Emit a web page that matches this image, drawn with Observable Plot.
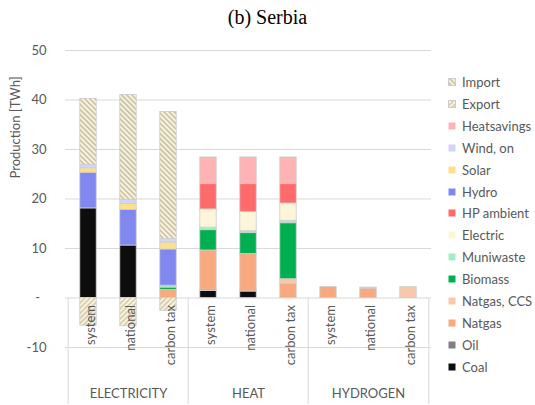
<!DOCTYPE html>
<html><head><meta charset="utf-8">
<script src="https://cdn.jsdelivr.net/npm/d3@7"></script>
<script src="https://cdn.jsdelivr.net/npm/@observablehq/plot@0.6"></script>
<style>
body{margin:0;background:#fff;}
#wrap{position:relative;width:535px;height:405px;font-family:Lato,"Open Sans",sans-serif;color:#595959;}
#title{position:absolute;left:0;top:7px;width:535px;text-align:center;font-family:"Liberation Serif","Times New Roman",serif;font-size:20px;line-height:20px;color:#000;}
#chart{position:absolute;left:0;top:0;}
.item{position:absolute;left:447px;height:16px;line-height:16px;font-size:13px;white-space:nowrap;}
.item svg{position:absolute;left:1px;top:4px;}
.item span{position:absolute;left:15px;top:0;}
</style>
</head><body>
<div id="wrap"><div id="chart"></div><div id="title">(b) Serbia</div><div id="legend"></div></div>
<script>
// ---- data (TWh), 9 bars: ELECTRICITY/HEAT/HYDROGEN × system/national/carbon tax ----
const sectors = ["ELECTRICITY", "HEAT", "HYDROGEN"];
const scenarios = ["system", "national", "carbon tax"];
const seriesNames = ["Coal","Oil","Natgas","Natgas, CCS","Biomass","Muniwaste","Electric","HP ambient","Hydro","Solar","Wind, on","Heatsavings","Export","Import"];
const seriesColors = ["#0d0d0d","#7f7f7f","#f8a97f","#f9c8ab","#00b050","#a6ebc8","#fdf5d9","#ff6b6b","#8088f0","#fde08a","#d2d5f7","#ffb3b5","url(#hatchExport)","url(#hatchImport)"];
const coal        = [18.1, 10.6, 0,    1.4, 1.3, 0,    0,   0,   0];
const oil         = [0,    0,    0,    0,   0,   0,    0,   0,   0];
const natgas      = [0,    0,    1.6,  8.2, 7.6, 2.8,  2.2, 1.9, 0];
const natgasCCS   = [0,    0,    0,    0,   0,   1.0,  0,   0.2, 2.2];
const biomass     = [0,    0,    0.5,  4.1, 4.2, 11.3, 0,   0,   0];
const muniwaste   = [0,    0,    0.4,  0.5, 0.4, 0.5,  0,   0,   0];
const electric    = [0,    0,    0,    3.7, 3.9, 3.5,  0,   0,   0];
const hpAmbient   = [0,    0,    0,    5.1, 5.6, 3.9,  0,   0,   0];
const hydro       = [7.2,  7.2,  7.3,  0,   0,   0,    0,   0,   0];
const solar       = [0.9,  1.2,  1.4,  0,   0,   0,    0,   0,   0];
const windOn      = [0.7,  0.8,  0.7,  0,   0,   0,    0,   0,   0];
const heatsavings = [0,    0,    0,    5.4, 5.4, 5.4,  0,   0,   0];
const exportE     = [-5.6, -5.7, -2.6, 0,   0,   0,    0,   0,   0];
const importE     = [13.3, 21.2, 25.7, 0,   0,   0,    0,   0,   0];
const yTicks = [-10, 0, 10, 20, 30, 40, 50];

// ---- build table ----
const seriesValues = [coal, oil, natgas, natgasCCS, biomass, muniwaste, electric, hpAmbient, hydro, solar, windOn, heatsavings, exportE, importE];
const keys = [];
sectors.forEach(s => scenarios.forEach(c => keys.push(s + "|" + c)));
const rows = [];
seriesValues.forEach((vals, si) => vals.forEach((v, i) => {
  if (v !== 0) rows.push({key: keys[i], series: seriesNames[si], value: v});
}));
const tickRows = keys.map(k => ({key: k, label: k.split("|")[1]}));
const groupRows = sectors.map(s => ({key: s + "|" + scenarios[1], label: s}));
const groupStarts = sectors.map(s => s + "|" + scenarios[0]);
const lastKey = [keys[keys.length - 1]];

const W = 535, H = 405, mL = 65, mR = 104, mT = 50, mB = 58;
const bw = (W - mL - mR) / keys.length;
const pxPerUnit = (H - mT - mB) / (yTicks[yTicks.length - 1] - yTicks[0]);
const yAt = py => yTicks[yTicks.length - 1] - (py - mT) / pxPerUnit; // page px -> value
const txt = "#595959";

const chart = Plot.plot({
  width: W, height: H,
  marginLeft: mL, marginRight: mR, marginTop: mT, marginBottom: mB,
  style: {fontFamily: "Lato, 'Open Sans', sans-serif", fontSize: "13px", color: txt, background: "transparent"},
  x: {type: "band", domain: keys, padding: 0, axis: null},
  y: {domain: [yTicks[0], yTicks[yTicks.length - 1]], axis: null},
  color: {domain: seriesNames, range: seriesColors},
  marks: [
    Plot.ruleY(yTicks, {stroke: "#d9d9d9", strokeWidth: 1}),
    Plot.barY(rows, Plot.stackY({order: seriesNames}, {
      x: "key", y: "value", z: "series", fill: "series",
      stroke: "#cccccc", strokeWidth: 0.8, insetLeft: 11.8, insetRight: 11.8
    })),
    Plot.ruleX(groupStarts, {x: d => d, y1: 0, y2: yAt(404), dx: -bw / 2, stroke: "#d9d9d9"}),
    Plot.ruleX(lastKey, {x: d => d, y1: 0, y2: yAt(404), dx: bw / 2, stroke: "#d9d9d9"}),
    Plot.text(tickRows, {x: "key", y: 0, text: "label", rotate: -90, textAnchor: "end", lineAnchor: "middle", dy: 7, dx: 2, fill: txt, fontSize: 13}),
    Plot.text(groupRows, {x: "key", y: yAt(393), text: "label", fill: txt, fontSize: 13}),
    Plot.text(yTicks, {y: d => d, frameAnchor: "left", dx: -19, textAnchor: "end", text: d => d === 0 ? "-\u2002" : String(d), fill: txt, fontSize: 13}),
    Plot.text(["Production [TWh]"], {y: yAt(178), frameAnchor: "left", dx: -50, rotate: -90, fill: txt, fontSize: 13})
  ]
});

d3.select(chart).insert("defs", ":first-child").html(`
  <pattern id="hatchImport" patternUnits="userSpaceOnUse" width="3.6" height="3.6" patternTransform="rotate(-45)">
    <rect width="3.6" height="3.6" fill="#fcf4d6"/><rect width="1.6" height="3.6" fill="#c4beae"/>
  </pattern>
  <pattern id="hatchExport" patternUnits="userSpaceOnUse" width="3.6" height="3.6" patternTransform="rotate(45)">
    <rect width="3.6" height="3.6" fill="#fcf4d6"/><rect width="1.6" height="3.6" fill="#d2cab6"/>
  </pattern>`);
document.getElementById("chart").appendChild(chart);

// ---- legend (reverse series order, as in the reference) ----
const legend = document.getElementById("legend");
const legendTop = 82, legendStep = 21.9;
seriesNames.slice().reverse().forEach((name, i) => {
  const color = seriesColors[seriesNames.indexOf(name)];
  const div = document.createElement("div");
  div.className = "item";
  div.style.top = (legendTop + i * legendStep - 8) + "px";
  div.innerHTML = `<svg width="8" height="8"><rect x="0.5" y="0.5" width="7" height="7" fill="${color}" stroke="${color.startsWith('url') ? '#cccccc' : 'none'}"/></svg><span>${name}</span>`;
  legend.appendChild(div);
});
</script>
</body></html>
